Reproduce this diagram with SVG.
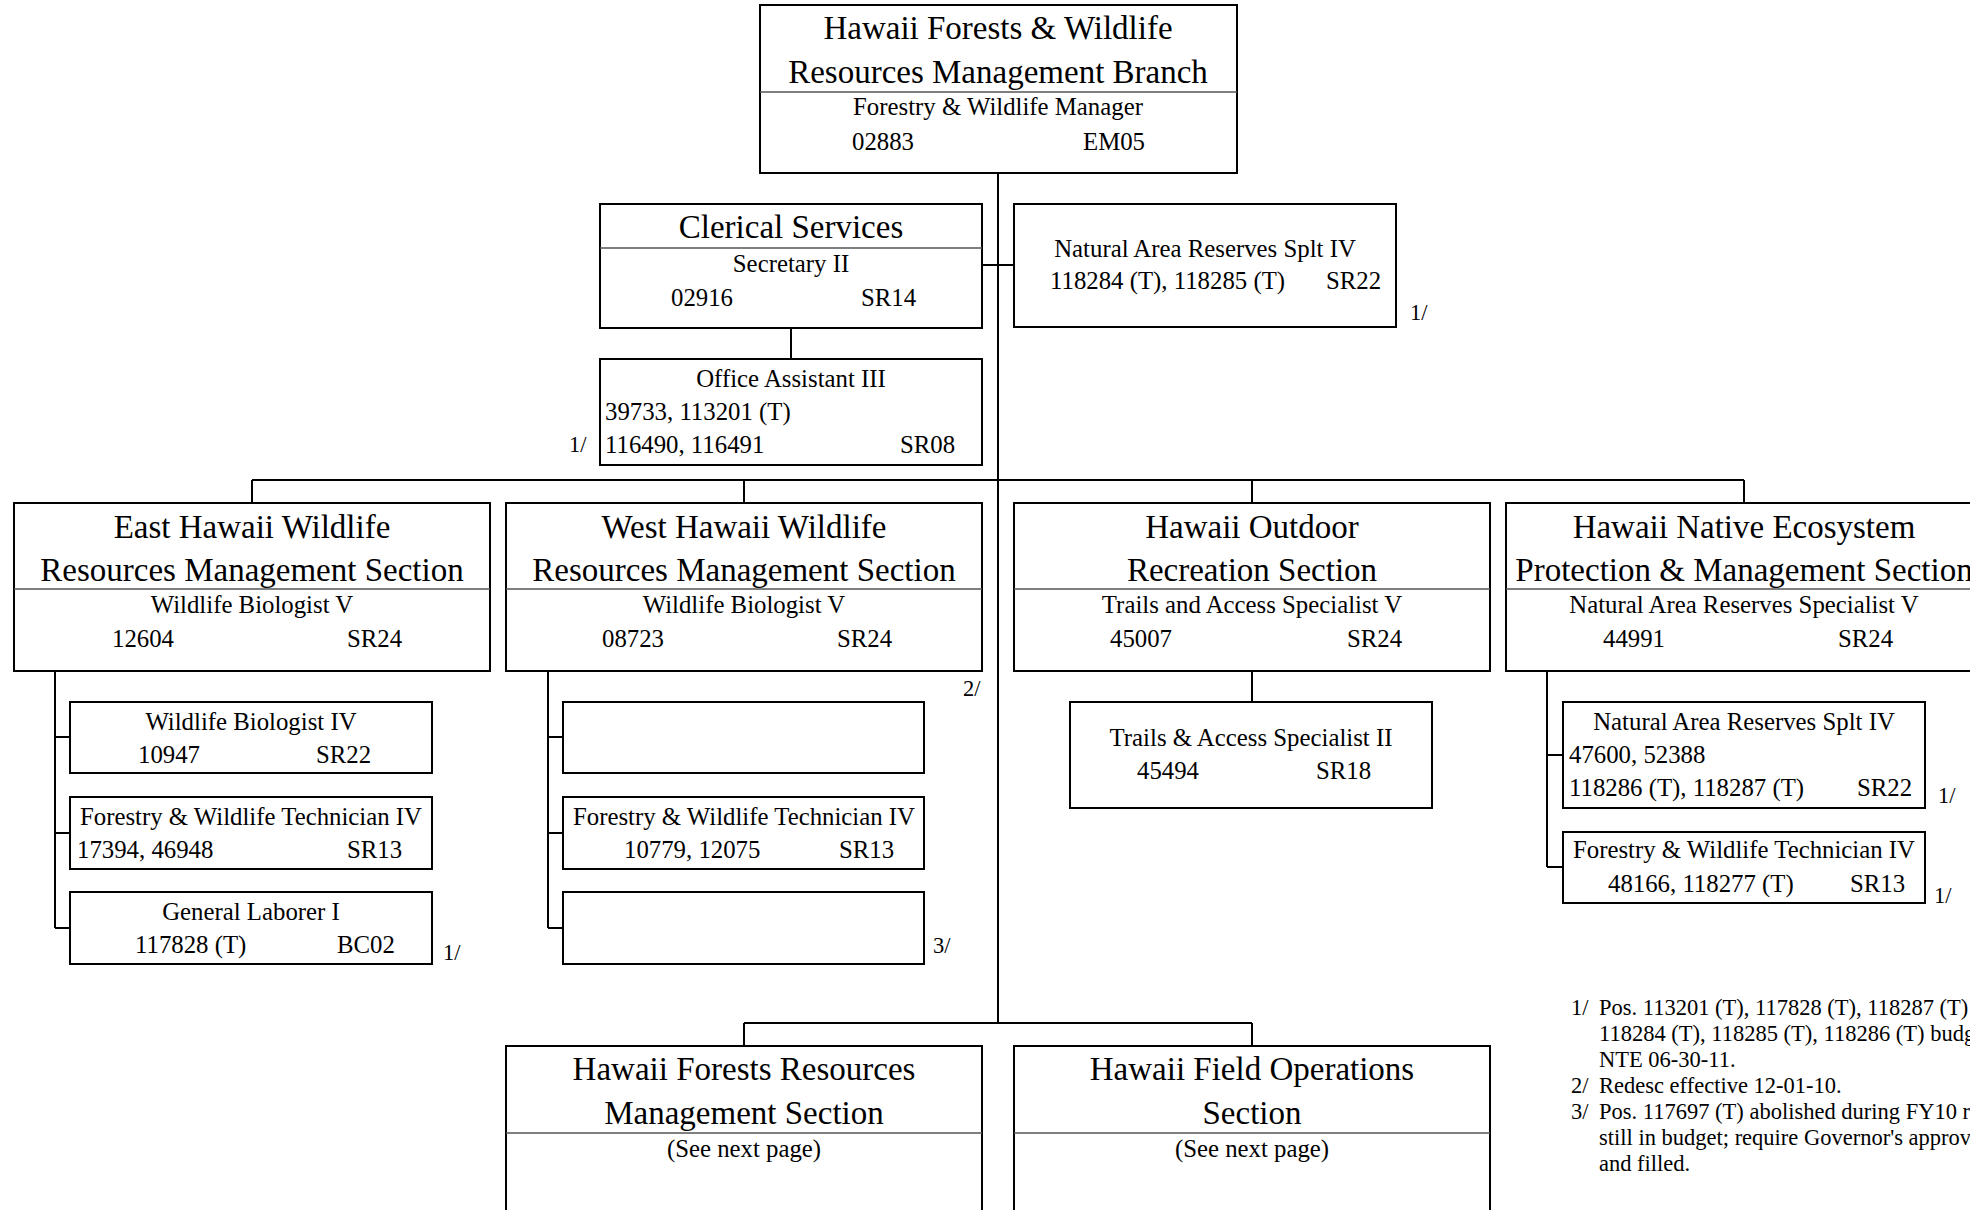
<svg xmlns="http://www.w3.org/2000/svg" width="1970" height="1210" viewBox="0 0 1970 1210">
<style>
.box{fill:#fff;stroke:#000;stroke-width:2}
.dv{stroke:#555;stroke-width:1.5}
.conn{stroke:#000;stroke-width:2;fill:none}
text{font-family:"Liberation Serif","Times New Roman",serif;fill:#000}
.t{font-size:33px;text-anchor:middle}
.s{font-size:24.8px}
.m{text-anchor:middle}
.n{font-size:22.5px}
</style>
<rect width="1970" height="1210" fill="#fff"/>
<g id="connectors">
<path class="conn" d="M998 173V1023M982 265H1014M791 328V359M252 480H1744M252 480V503M744 480V503M1252 480V503M1744 480V503"/>
<path class="conn" d="M55 671V928M55 737H70M55 833H70M55 928H70"/>
<path class="conn" d="M548 671V928M548 737H563M548 833H563M548 928H563"/>
<path class="conn" d="M1252 671V702M1547 671V867M1547 755H1563M1547 867H1563"/>
<path class="conn" d="M744 1023H1252M744 1023V1046M1252 1023V1046"/>
</g>
<g id="branch">
<rect class="box" x="760" y="5" width="477" height="168"/>
<line class="dv" x1="760" y1="92" x2="1237" y2="92"/>
<text class="t" x="998" y="39">Hawaii Forests &amp; Wildlife</text>
<text class="t" x="998" y="83">Resources Management Branch</text>
<text class="s m" x="998" y="115">Forestry &amp; Wildlife Manager</text>
<text class="s" x="852" y="150">02883</text>
<text class="s" x="1083" y="150">EM05</text>
</g>
<g id="clerical">
<rect class="box" x="600" y="204" width="382" height="124"/>
<line class="dv" x1="600" y1="248" x2="982" y2="248"/>
<text class="t" x="791" y="238">Clerical Services</text>
<text class="s m" x="791" y="272">Secretary II</text>
<text class="s" x="671" y="306">02916</text>
<text class="s" x="861" y="306">SR14</text>
</g>
<g id="office-assistant">
<rect class="box" x="600" y="359" width="382" height="106"/>
<text class="s m" x="791" y="387">Office Assistant III</text>
<text class="s" x="605" y="420">39733, 113201 (T)</text>
<text class="s" x="605" y="453">116490, 116491</text>
<text class="s" x="900" y="453">SR08</text>
<text class="n" x="569" y="452">1/</text>
</g>
<g id="nar-splt-top">
<rect class="box" x="1014" y="204" width="382" height="123"/>
<text class="s m" x="1205" y="257">Natural Area Reserves Splt IV</text>
<text class="s" x="1050" y="289">118284 (T), 118285 (T)</text>
<text class="s" x="1326" y="289">SR22</text>
<text class="n" x="1410" y="320">1/</text>
</g>
<g id="east">
<rect class="box" x="14" y="503" width="476" height="168"/>
<line class="dv" x1="14" y1="589" x2="490" y2="589"/>
<text class="t" x="252" y="538">East Hawaii Wildlife</text>
<text class="t" x="252" y="581">Resources Management Section</text>
<text class="s m" x="252" y="613">Wildlife Biologist V</text>
<text class="s" x="112" y="647">12604</text>
<text class="s" x="347" y="647">SR24</text>
</g>
<g id="west">
<rect class="box" x="506" y="503" width="476" height="168"/>
<line class="dv" x1="506" y1="589" x2="982" y2="589"/>
<text class="t" x="744" y="538">West Hawaii Wildlife</text>
<text class="t" x="744" y="581">Resources Management Section</text>
<text class="s m" x="744" y="613">Wildlife Biologist V</text>
<text class="s" x="602" y="647">08723</text>
<text class="s" x="837" y="647">SR24</text>
<text class="n" x="963" y="696">2/</text>
</g>
<g id="outdoor">
<rect class="box" x="1014" y="503" width="476" height="168"/>
<line class="dv" x1="1014" y1="589" x2="1490" y2="589"/>
<text class="t" x="1252" y="538">Hawaii Outdoor</text>
<text class="t" x="1252" y="581">Recreation Section</text>
<text class="s m" x="1252" y="613">Trails and Access Specialist V</text>
<text class="s" x="1110" y="647">45007</text>
<text class="s" x="1347" y="647">SR24</text>
</g>
<g id="native">
<rect class="box" x="1506" y="503" width="476" height="168"/>
<line class="dv" x1="1506" y1="589" x2="1982" y2="589"/>
<text class="t" x="1744" y="538">Hawaii Native Ecosystem</text>
<text class="t" x="1744" y="581">Protection &amp; Management Section</text>
<text class="s m" x="1744" y="613">Natural Area Reserves Specialist V</text>
<text class="s" x="1603" y="647">44991</text>
<text class="s" x="1838" y="647">SR24</text>
</g>
<g id="east-wb4">
<rect class="box" x="70" y="702" width="362" height="71"/>
<text class="s m" x="251" y="730">Wildlife Biologist IV</text>
<text class="s" x="138" y="763">10947</text>
<text class="s" x="316" y="763">SR22</text>
</g>
<g id="east-fwt4">
<rect class="box" x="70" y="797" width="362" height="72"/>
<text class="s m" x="251" y="825">Forestry &amp; Wildlife Technician IV</text>
<text class="s" x="77" y="858">17394, 46948</text>
<text class="s" x="347" y="858">SR13</text>
</g>
<g id="east-gl1">
<rect class="box" x="70" y="892" width="362" height="72"/>
<text class="s m" x="251" y="920">General Laborer I</text>
<text class="s" x="135" y="953">117828 (T)</text>
<text class="s" x="337" y="953">BC02</text>
<text class="n" x="443" y="960">1/</text>
</g>
<g id="west-empty1">
<rect class="box" x="563" y="702" width="361" height="71"/>
</g>
<g id="west-fwt4">
<rect class="box" x="563" y="797" width="361" height="72"/>
<text class="s m" x="744" y="825">Forestry &amp; Wildlife Technician IV</text>
<text class="s" x="624" y="858">10779, 12075</text>
<text class="s" x="839" y="858">SR13</text>
</g>
<g id="west-empty2">
<rect class="box" x="563" y="892" width="361" height="72"/>
<text class="n" x="933" y="953">3/</text>
</g>
<g id="outdoor-tas2">
<rect class="box" x="1070" y="702" width="362" height="106"/>
<text class="s m" x="1251" y="746">Trails &amp; Access Specialist II</text>
<text class="s" x="1137" y="779">45494</text>
<text class="s" x="1316" y="779">SR18</text>
</g>
<g id="native-nar4">
<rect class="box" x="1563" y="702" width="362" height="106"/>
<text class="s m" x="1744" y="730">Natural Area Reserves Splt IV</text>
<text class="s" x="1569" y="763">47600, 52388</text>
<text class="s" x="1569" y="796">118286 (T), 118287 (T)</text>
<text class="s" x="1857" y="796">SR22</text>
<text class="n" x="1938" y="803">1/</text>
</g>
<g id="native-fwt4">
<rect class="box" x="1563" y="832" width="362" height="71"/>
<text class="s m" x="1744" y="858">Forestry &amp; Wildlife Technician IV</text>
<text class="s" x="1608" y="892">48166, 118277 (T)</text>
<text class="s" x="1850" y="892">SR13</text>
<text class="n" x="1934" y="903">1/</text>
</g>
<g id="forests-resources">
<rect class="box" x="506" y="1046" width="476" height="180"/>
<line class="dv" x1="506" y1="1133" x2="982" y2="1133"/>
<text class="t" x="744" y="1080">Hawaii Forests Resources</text>
<text class="t" x="744" y="1124">Management Section</text>
<text class="s m" x="744" y="1157">(See next page)</text>
</g>
<g id="field-operations">
<rect class="box" x="1014" y="1046" width="476" height="180"/>
<line class="dv" x1="1014" y1="1133" x2="1490" y2="1133"/>
<text class="t" x="1252" y="1080">Hawaii Field Operations</text>
<text class="t" x="1252" y="1124">Section</text>
<text class="s m" x="1252" y="1157">(See next page)</text>
</g>
<g id="footnotes">
<text class="n" x="1571" y="1015">1/</text>
<text class="n" x="1599" y="1015">Pos. 113201 (T), 117828 (T), 118287 (T)</text>
<text class="n" x="1599" y="1041">118284 (T), 118285 (T), 118286 (T) budg</text>
<text class="n" x="1599" y="1067">NTE 06-30-11.</text>
<text class="n" x="1571" y="1093">2/</text>
<text class="n" x="1599" y="1093">Redesc effective 12-01-10.</text>
<text class="n" x="1571" y="1119">3/</text>
<text class="n" x="1599" y="1119">Pos. 117697 (T) abolished during FY10 r</text>
<text class="n" x="1599" y="1145">still in budget; require Governor's approva</text>
<text class="n" x="1599" y="1171">and filled.</text>
</g>
</svg>
